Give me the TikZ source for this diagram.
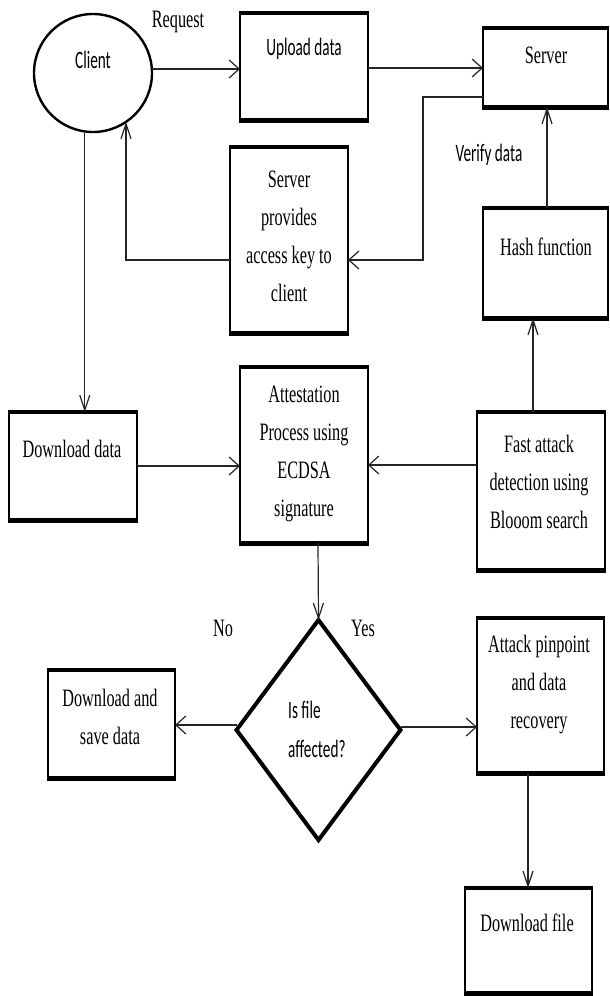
\documentclass[tikz,border=0pt]{standalone}
\usepackage{fontspec}
\setmainfont{Liberation Serif}[FakeStretch=0.65]
\newfontfamily\calfont{Carlito}[FakeStretch=0.61]
\usetikzlibrary{arrows.meta,shapes.geometric}
\begin{document}
\begin{tikzpicture}[x=1pt,y=-1pt,
  box/.style={draw,line width=2.4pt,inner sep=0pt,outer sep=0pt},
  txt/.style={align=center,inner sep=0pt,font=\fontsize{25}{38}\selectfont},
  stxt/.style={align=center,inner sep=0pt,font=\calfont\fontsize{25}{39}\selectfont},
  conn/.style={line width=1.2pt,draw=black!85},
  harr/.style={conn,-{Straight Barb[length=10pt,width=18pt]}},
  varr/.style={conn,-{Straight Barb[length=15pt,width=10pt]}}]
\fill[white] (0,0) rectangle (610,996);
\useasboundingbox (0,0) rectangle (610,996);

% shapes
\node[circle,draw,line width=2.4pt,minimum size=118pt,inner sep=0pt,outer sep=0pt] (client) at (93,73) {};
\node[box,minimum width=128pt,minimum height=107pt] (upload) at (304,66.5) {};
\node[box,minimum width=125pt,minimum height=79pt] (server) at (545.5,67.5) {};
\node[box,minimum width=118pt,minimum height=186pt] (key) at (289,240) {};
\node[box,minimum width=125pt,minimum height=110pt] (hash) at (545.5,263) {};
\node[box,minimum width=128pt,minimum height=108pt] (download) at (73,466) {};
\node[box,minimum width=128pt,minimum height=176pt] (attest) at (304,455) {};
\node[box,minimum width=128pt,minimum height=158pt] (fast) at (541,491) {};
\node[box,minimum width=127pt,minimum height=108pt] (save) at (111.5,724) {};
\node[box,minimum width=127pt,minimum height=155pt] (attack) at (540.5,695.5) {};
\node[box,minimum width=127pt,minimum height=105pt] (dlfile) at (528.5,940.5) {};
\node[diamond,draw,line width=4pt,minimum width=164pt,minimum height=220pt,inner sep=0pt,outer sep=0pt] (dec) at (318.5,730) {};

% thick top and bottom edges
\foreach \n in {upload,server,key,hash,download,attest,fast,save,attack,dlfile}{
  \draw[line width=4pt] ([xshift=-1.2pt]\n.north west) -- ([xshift=1.2pt]\n.north east);
  \draw[line width=5pt] ([xshift=-1.2pt]\n.south west) -- ([xshift=1.2pt]\n.south east);
}

% texts
\node[stxt] (tclient) at (93,60) {Client};
\node[txt] (treq) at (178,22) {Request};
\node[stxt] (tupload) at (304,49) {Upload data};
\node[txt] (tserver) at (546,55) {Server};
\node[stxt] (tverify) at (489,155) {Verify data};
\node[txt] (thash) at (546,247) {Hash function};
\node[txt] (tkey) at (289,236) {Server\\provides\\access key to\\client};
\node[txt] (tdown) at (72,449) {Download data};
\node[txt] (tattest) at (304,454) {Attestation\\Process using\\ECDSA\\signature};
\node[txt] (tfast) at (539,482) {Fast attack\\detection using\\Blooom search};
\node[txt] (tno) at (223,628) {No};
\node[txt] (tyes) at (363,628) {Yes};
\node[stxt,align=left,anchor=west] (tdec) at (288,729) {Is file\\affected?};
\node[txt] (tsave) at (110,717) {Download and\\save data};
\node[txt] (tattack) at (539,685) {Attack pinpoint\\and data\\recovery};
\node[txt] (tdl) at (527,923) {Download file};

% connectors
\draw[harr] (client.east |- 0,69) -- (upload.west |- 0,69);
\draw[harr] (upload.east |- 0,68) -- (server.west |- 0,68);
\draw[harr] (server.west |- 0,97) -- (423,97) |- (key.east |- 0,260);
\draw[varr] (key.west |- 0,260) -| (client.-56);
\draw[varr] (client.-98) -- (client.-98 |- download.north);
\draw[harr] (download.east |- 0,466) -- (attest.west |- 0,466);
\draw[harr] (fast.west |- 0,465) -- (attest.east |- 0,465);
\draw[varr] (fast.north -| 533,0) -- (hash.south -| 533,0);
\draw[varr] (hash.north -| 547,0) -- (server.south -| 547,0);
\draw[varr] (attest.south -| 318,0) -- (dec.north);
\draw[harr] (dec.west |- 0,725) -- (save.east |- 0,725);
\draw[harr] (dec.east |- 0,727) -- (attack.west |- 0,727);
\draw[varr] (attack.south -| 528,0) -- (dlfile.north -| 528,0);
\end{tikzpicture}
\end{document}
